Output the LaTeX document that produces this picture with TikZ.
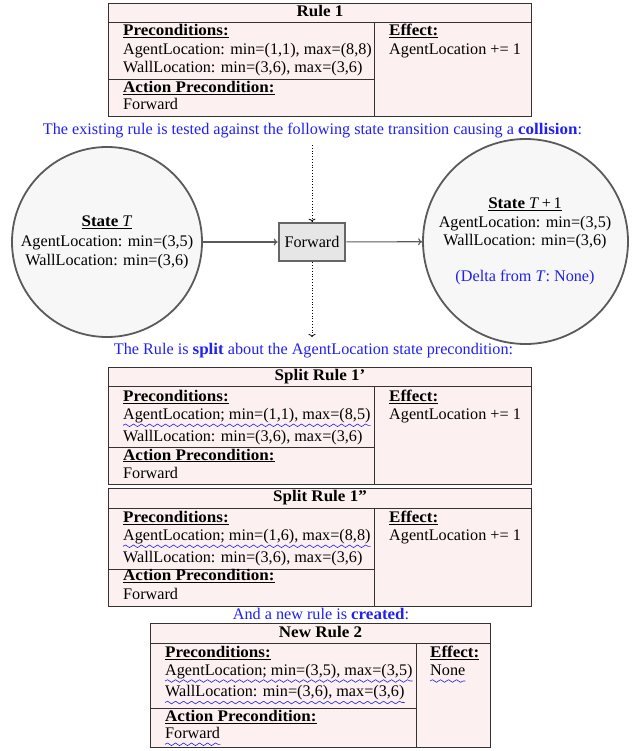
\documentclass[tikz,border=0pt]{standalone}
\usepackage{fontspec}
\setmainfont[BoldFeatures={FakeStretch=1.05}]{Liberation Serif}
\usetikzlibrary{decorations.pathmorphing,arrows.meta}
\definecolor{rulefill}{HTML}{FDF0F0}
\definecolor{ruleline}{HTML}{333333}
\definecolor{circfill}{HTML}{F7F7F7}
\definecolor{circline}{HTML}{5A5A5A}
\definecolor{fwfill}{HTML}{E6E6E6}
\definecolor{fwline}{HTML}{666666}
\definecolor{txtblue}{HTML}{2020F0}
\newcommand{\fs}{\fontsize{16.2}{19}\selectfont}
\tikzset{
  rulebox/.style={draw=ruleline, fill=rulefill, line width=0.9pt},
  ruleln/.style={draw=ruleline, line width=0.9pt},
  txt/.style={anchor=base west, inner sep=0pt, font=\fs},
  ttl/.style={anchor=base, inner sep=0pt, font=\fs\bfseries},
  ctxt/.style={anchor=base, inner sep=0pt, font=\fs},
  bluetxt/.style={anchor=base, inner sep=0pt, text=txtblue, font=\fs},
  wave/.style={draw=txtblue, line width=0.6pt, decorate, decoration={snake, amplitude=1.3pt, segment length=8pt}},
  statecirc/.style={circle, draw=circline, fill=circfill, line width=1.8pt, inner sep=0pt},
  fwbox/.style={rectangle, draw=fwline, fill=fwfill, line width=2.6pt, minimum width=66pt, minimum height=38pt},
  conn/.style={draw=circline, line width=1.1pt, -{To[length=4pt,width=7pt]}},
  dotconn/.style={draw=black, dotted, line width=0.8pt, -{To[length=3pt,width=7pt]}}
}
\newcommand{\hd}[1]{\underline{\textbf{#1}}}
\begin{document}
\begin{tikzpicture}[x=1pt,y=-1pt]
\useasboundingbox (0,0) rectangle (641,751);

% ---------- Rule 1 ----------
\path[rulebox] (108.5,3) rectangle (531.5,116);
\draw[ruleln] (108.5,22.5) -- (531.5,22.5);
\draw[ruleln] (374.5,22.5) -- (374.5,116);
\draw[ruleln] (108.5,79) -- (374.5,79);
\node[ttl] (r1t) at (320,16.5) {Rule 1};
\node[txt] (r1p) at (123,36) {\hd{Preconditions:}};
\node[txt] (r1a) at (123,55) {AgentLocation: min=(1,1), max=(8,8)};
\node[txt] (r1w) at (123,73) {WallLocation: min=(3,6), max=(3,6)};
\node[txt] (r1ap) at (123,92.7) {\hd{Action Precondition:}};
\node[txt] (r1f) at (123,110) {Forward};
\node[txt] (r1e) at (389,36) {\hd{Effect:}};
\node[txt] (r1ev) at (389,55) {AgentLocation += 1};

\node[bluetxt] (l1) at (312.5,135) {The existing rule is tested against the following state transition causing a \textbf{collision}:};

% ---------- Transition ----------
\node[statecirc, minimum size=190pt] (sT) at (107,242) {};
\node[statecirc, minimum size=205pt] (sT1) at (525.5,241.5) {};
\node[fwbox] (fw) at (312,242) {};
\node[ctxt] (fwt) at (312,247) {Forward};
\node[ctxt] (sTh) at (107,226.7) {\underline{\textbf{State} \textit{T}}};
\node[ctxt] (sTa) at (107,246) {AgentLocation: min=(3,5)};
\node[ctxt] (sTw) at (107,265) {WallLocation: min=(3,6)};
\node[ctxt] (sT1h) at (525,208.3) {\underline{\textbf{State} \textit{T}\,+\,1}};
\node[ctxt] (sT1a) at (525,227.3) {AgentLocation: min=(3,5)};
\node[ctxt] (sT1w) at (525,245) {WallLocation: min=(3,6)};
\node[bluetxt] (sT1d) at (525,281.7) {(Delta from \textit{T}: None)};
\draw[conn] (sT) -- (fw);
\draw[conn] (fw) -- (sT1);
\coordinate (dtop) at (312,145);
\coordinate (dbot) at (312,337);
\draw[dotconn] (dtop) -- (fw.north);
\draw[dotconn] (fw.south) -- (dbot);

\node[bluetxt] (l2) at (313.5,354.5) {The Rule is \textbf{split} about the AgentLocation state precondition:};

% ---------- Split Rule 1' ----------
\path[rulebox] (108.5,367.5) rectangle (531.5,484.5);
\draw[ruleln] (108.5,386.7) -- (531.5,386.7);
\draw[ruleln] (374.5,386.7) -- (374.5,484.5);
\draw[ruleln] (108.5,447.7) -- (374.5,447.7);
\node[ttl] (s1t) at (320,380.7) {Split Rule 1’};
\node[txt] (s1p) at (123,401.7) {\hd{Preconditions:}};
\node[txt] (s1a) at (123,419.3) {AgentLocation; min=(1,1), max=(8,5)};
\node[txt] (s1w) at (123,441.7) {WallLocation: min=(3,6), max=(3,6)};
\node[txt] (s1ap) at (123,460) {\hd{Action Precondition:}};
\node[txt] (s1f) at (123,478.3) {Forward};
\node[txt] (s1e) at (389,401.7) {\hd{Effect:}};
\node[txt] (s1ev) at (389,419.3) {AgentLocation += 1};
\draw[wave] ([yshift=-6pt]s1a.base west) -- ([yshift=-6pt]s1a.base east);

% ---------- Split Rule 1'' ----------
\path[rulebox] (108.5,488.5) rectangle (531.5,606);
\draw[ruleln] (108.5,508.3) -- (531.5,508.3);
\draw[ruleln] (374.5,508.3) -- (374.5,606);
\draw[ruleln] (108.5,569) -- (374.5,569);
\node[ttl] (s2t) at (320,501.7) {Split Rule 1”};
\node[txt] (s2p) at (123,522.7) {\hd{Preconditions:}};
\node[txt] (s2a) at (123,540.3) {AgentLocation; min=(1,6), max=(8,8)};
\node[txt] (s2w) at (123,562.7) {WallLocation: min=(3,6), max=(3,6)};
\node[txt] (s2ap) at (123,580.7) {\hd{Action Precondition:}};
\node[txt] (s2f) at (123,599.3) {Forward};
\node[txt] (s2e) at (389,522.7) {\hd{Effect:}};
\node[txt] (s2ev) at (389,540.3) {AgentLocation += 1};
\draw[wave] ([yshift=-6pt]s2a.base west) -- ([yshift=-6pt]s2a.base east);

\node[bluetxt] (l3) at (321,619.5) {And a new rule is \textbf{created}:};

% ---------- New Rule 2 ----------
\path[rulebox] (150.5,623.5) rectangle (490.5,747.7);
\draw[ruleln] (150.5,643.3) -- (490.5,643.3);
\draw[ruleln] (416,643.3) -- (416,747.7);
\draw[ruleln] (150.5,708.3) -- (416,708.3);
\node[ttl] (n2t) at (320.5,637.3) {New Rule 2};
\node[txt] (n2p) at (165,657.3) {\hd{Preconditions:}};
\node[txt] (n2a) at (165,675) {AgentLocation; min=(3,5), max=(3,5)};
\node[txt] (n2w) at (165,696.5) {WallLocation: min=(3,6), max=(3,6)};
\node[txt] (n2ap) at (165,721.7) {\hd{Action Precondition:}};
\node[txt] (n2f) at (165,738.3) {Forward};
\node[txt] (n2e) at (430,657.3) {\hd{Effect:}};
\node[txt] (n2ev) at (430,675) {None};
\draw[wave] ([yshift=-6pt]n2a.base west) -- ([yshift=-6pt]n2a.base east);
\draw[wave] ([yshift=-6pt]n2w.base west) -- ([yshift=-6pt]n2w.base east);
\draw[wave] ([yshift=-6pt]n2f.base west) -- ([yshift=-6pt]n2f.base east);
\draw[wave] ([yshift=-6pt]n2ev.base west) -- ([yshift=-6pt]n2ev.base east);
\end{tikzpicture}
\end{document}
